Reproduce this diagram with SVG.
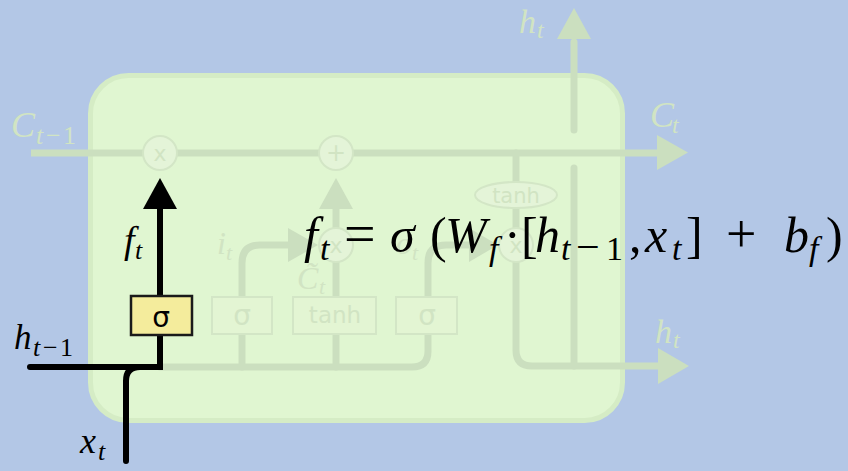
<svg xmlns="http://www.w3.org/2000/svg" width="848" height="471" viewBox="0 0 848 471">
<defs>
<style>
.bg{fill:#b3c7e6}
.cell{fill:#e0f6d1;stroke:#d5ecc5;stroke-width:5}
.fl{fill:none;stroke:#cbdfbf;stroke-width:7;stroke-linecap:round;stroke-linejoin:round}
.fb{fill:none;stroke:#cbdfbf;stroke-width:7;stroke-linecap:butt}
.fa{fill:#cbdfbf}
.op{fill:#e4f4d8;stroke:#d3e6c6;stroke-width:2}
.fbox{fill:#e3f5d3;stroke:#d3e6c6;stroke-width:2}
.ft{fill:#d1e4c3;font-family:"DejaVu Sans",sans-serif;text-anchor:middle}
.fm{fill:#d1e4c3;font-family:"Liberation Serif",serif;font-style:italic}
.bl{fill:none;stroke:#000;stroke-width:6;stroke-linecap:round;stroke-linejoin:miter}
.m{font-family:"Liberation Serif",serif;font-style:italic;fill:#000}
.n{font-style:normal}
</style>
</defs>
<rect class="bg" x="0" y="0" width="848" height="471"/>
<g id="cell">
<rect class="cell" x="90.5" y="75.5" width="532" height="345" rx="38"/>
</g>
<g id="connectors">
<path class="fb" d="M31,153 H660"/>
<polygon class="fa" points="657,135 688,152.5 657,170"/>
<path class="fl" d="M160,367 H412 Q428,367 428,351 V334"/>
<path class="fl" d="M242,367 V334"/>
<path class="fl" d="M242,297 V263 Q242,245 260,245 H292"/>
<polygon class="fa" points="288,228 318,245 288,262"/>
<path class="fl" d="M336,367 V334"/>
<path class="fl" d="M336,297 V262"/>
<path class="fl" d="M336,228 V205"/>
<polygon class="fa" points="319,209 336,178 353,209"/>
<path class="fl" d="M428,297 V263 Q428,245 446,245 H472"/>
<polygon class="fa" points="469,228 498,245 469,262"/>
<path class="fl" d="M516,153 V182"/>
<path class="fl" d="M516,208 V228"/>
<path class="fl" d="M516,262 V350 Q516,366 532,366 H662"/>
<polygon class="fa" points="658,348 689,366 658,384"/>
<path class="fl" d="M574,366 V168"/>
<path class="fl" d="M574,130 V42"/>
<polygon class="fa" points="557,39 574,8 591,39"/>
<path class="bl" d="M30,367 H160 V335"/>
<path class="bl" d="M126,461 V381 Q126,367 140,367 H160"/>
<path class="bl" d="M160,296 V205" style="stroke-linecap:butt"/>
<polygon points="143,209 160,178 177,209" fill="#000"/>
</g>
<g id="op-forget-mul">
<circle class="op" cx="160" cy="153" r="17"/>
<text class="ft" x="160" y="161" font-size="22">x</text>
</g>
<g id="op-add">
<circle class="op" cx="336" cy="153" r="17"/>
<text class="ft" x="336" y="161" font-size="24">+</text>
</g>
<g id="op-input-mul">
<circle class="op" cx="336" cy="245" r="17"/>
<text class="ft" x="336" y="253" font-size="22">x</text>
</g>
<g id="op-output-mul">
<circle class="op" cx="516" cy="245" r="17"/>
<text class="ft" x="516" y="253" font-size="22">x</text>
</g>
<g id="tanh-out">
<ellipse class="op" cx="516" cy="195" rx="41" ry="13"/>
<text class="ft" x="516" y="203" font-size="21">tanh</text>
</g>
<g id="gate-input">
<rect class="fbox" x="212" y="297" width="60" height="37"/>
<text class="ft" x="242" y="325" font-size="28">σ</text>
</g>
<g id="gate-candidate">
<rect class="fbox" x="293" y="297" width="83" height="37"/>
<text class="ft" x="335" y="323" font-size="23">tanh</text>
</g>
<g id="gate-output">
<rect class="fbox" x="396" y="297" width="61" height="37"/>
<text class="ft" x="427" y="325" font-size="28">σ</text>
</g>
<g id="gate-forget">
<rect x="131" y="296" width="61" height="39" fill="#f4ec9c" stroke="#1a1a1a" stroke-width="2.5"/>
<text x="161" y="327" font-size="28" font-family="DejaVu Sans,sans-serif" text-anchor="middle" fill="#000">σ</text>
</g>
<g id="labels-faded">
<text class="fm" x="11" y="137" font-size="36">C<tspan font-size="26" x="36" y="144">t</tspan><tspan class="n" font-size="26" x="46">−</tspan><tspan class="n" font-size="26" x="63">1</tspan></text>
<text class="fm" x="519" y="33" font-size="34">h<tspan font-size="24" x="537" y="38">t</tspan></text>
<text class="fm" x="650" y="127" font-size="36">C<tspan font-size="24" x="672" y="133">t</tspan></text>
<text class="fm" x="655" y="343" font-size="34">h<tspan font-size="24" x="673" y="348">t</tspan></text>
<text class="fm" x="217" y="254" font-size="32">i<tspan font-size="22" x="226" y="260">t</tspan></text>
<text class="fm" x="297" y="289" font-size="32">C̃<tspan font-size="22" x="319" y="294">t</tspan></text>
<text class="fm" x="396" y="254" font-size="32">o<tspan font-size="22" x="412" y="260">t</tspan></text>
</g>
<g id="labels">
<text class="m" x="124" y="253" font-size="38">f<tspan font-size="26" x="135" y="259">t</tspan></text>
<text class="m" x="14" y="349" font-size="35">h<tspan font-size="26" x="33" y="356">t</tspan><tspan class="n" font-size="26" x="43">−</tspan><tspan class="n" font-size="26" x="60">1</tspan></text>
<text class="m" x="80" y="453" font-size="36">x<tspan font-size="26" x="98" y="460">t</tspan></text>
</g>
<g id="formula">
<text class="m" font-size="50" y="252"><tspan x="304">f</tspan><tspan x="320" y="260" font-size="34">t</tspan><tspan x="344" y="253" class="n" font-size="56">=</tspan><tspan x="390" y="252">σ</tspan><tspan x="430" class="n">(</tspan><tspan x="445">W</tspan><tspan x="489" y="260" font-size="34">f</tspan><tspan x="504" y="252" class="n">·</tspan><tspan x="521" class="n">[</tspan><tspan x="535">h</tspan><tspan x="561" y="260" font-size="34">t</tspan><tspan x="576" y="261" class="n" font-size="42">−</tspan><tspan x="606" y="260" class="n" font-size="34">1</tspan><tspan x="629" y="252" class="n">,</tspan><tspan x="645">x</tspan><tspan x="672" y="260" font-size="34">t</tspan><tspan x="686" y="252" class="n">]</tspan><tspan x="726" class="n" font-size="54">+</tspan><tspan x="784">b</tspan><tspan x="809" y="260" font-size="34">f</tspan><tspan x="826" y="252" class="n">)</tspan></text>
</g>
</svg>
